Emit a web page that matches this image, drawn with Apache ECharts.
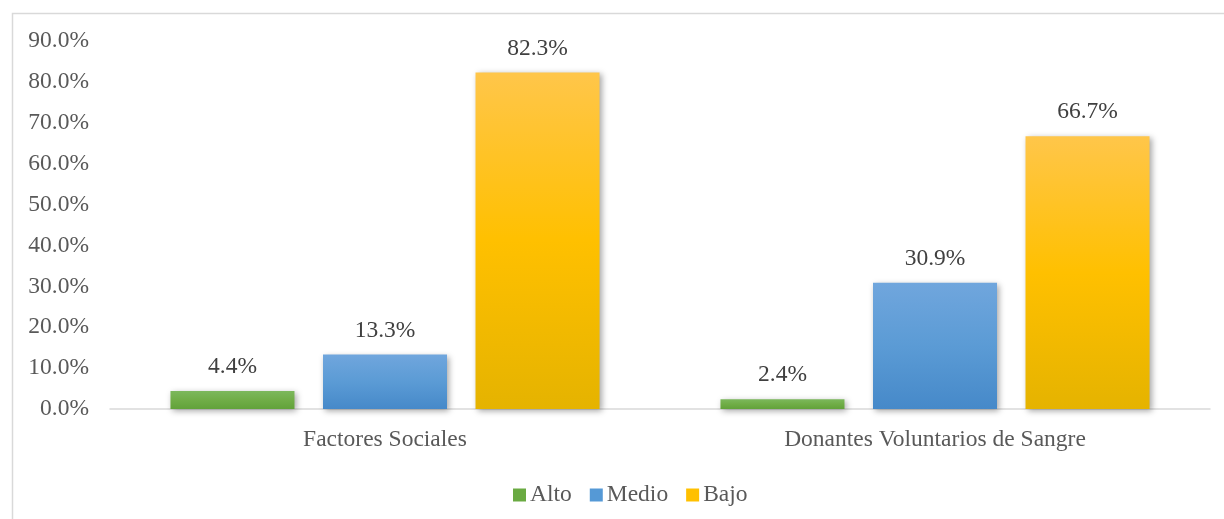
<!DOCTYPE html>
<html><head><meta charset="utf-8">
<script src="https://cdn.jsdelivr.net/npm/echarts@6/dist/echarts.min.js"></script>
<style>html,body{margin:0;padding:0;background:#fff;}#c{width:1224px;height:519px;}</style>
</head><body><div id="c"></div>
<script>
const categories = ['Factores Sociales', 'Donantes Voluntarios de Sangre'];
const seriesNames = ['Alto', 'Medio', 'Bajo'];
const alto = [4.4, 2.4];
const medio = [13.3, 30.9];
const bajo = [82.3, 66.7];
const yTicks = [0, 10, 20, 30, 40, 50, 60, 70, 80, 90];

const FONT = '"Liberation Serif", "Times New Roman", serif';
const FS = 23.5;
function grad(top, mid, bottom) {
  return new echarts.graphic.LinearGradient(0, 0, 0, 1, [
    {offset: 0, color: top}, {offset: 0.5, color: mid}, {offset: 1, color: bottom}
  ]);
}
const colors = [
  grad('#7cb85c', '#70ad47', '#62a23a'),
  grad('#70a6dd', '#5b9bd5', '#4689c9'),
  grad('#ffc64a', '#ffc000', '#e5b300')
];
const legendColors = ['#6aaa42', '#5599d6', '#ffc000'];
const data = [alto, medio, bajo];

const chart = echarts.init(document.getElementById('c'));
chart.setOption({
  animation: false,
  graphic: [{
    type: 'rect', left: 10, top: 11,
    shape: {width: 1400, height: 700},
    style: {fill: 'none', stroke: '#d9d9d9', lineWidth: 1.5}
  }],
  legend: {
    data: seriesNames.map((n, i) => ({name: n, itemStyle: {color: legendColors[i]}})),
    left: 508, top: 478,
    itemWidth: 13, itemHeight: 13, itemGap: 18,
    icon: 'rect',
    textStyle: {fontFamily: FONT, fontSize: FS, color: '#595959', padding: [0, 0, 0, -1]}
  },
  grid: {left: 110, right: 14, top: 41, bottom: 110, containLabel: false},
  xAxis: {
    type: 'category', data: categories,
    axisLine: {lineStyle: {color: '#d9d9d9', width: 1.5}},
    axisTick: {show: false},
    axisLabel: {fontFamily: FONT, fontSize: FS, color: '#595959', margin: 19}
  },
  yAxis: {
    type: 'value', min: 0, max: 90, interval: 10,
    axisLine: {show: false}, axisTick: {show: false},
    splitLine: {show: false},
    axisLabel: {fontFamily: FONT, fontSize: FS, color: '#595959', margin: 21,
      formatter: v => yTicks.includes(v) ? v.toFixed(1) + '%' : ''}
  },
  series: seriesNames.map((n, i) => ({
    name: n, type: 'bar', data: data[i],
    barWidth: 124, barGap: '23%',
    itemStyle: {color: colors[i], shadowColor: 'rgba(0,0,0,0.35)', shadowBlur: 6, shadowOffsetX: 2, shadowOffsetY: 2},
    label: {show: true, position: 'top', distance: 12, fontFamily: FONT, fontSize: FS, color: '#404040',
      formatter: p => p.value.toFixed(1) + '%'}
  }))
});
</script></body></html>
